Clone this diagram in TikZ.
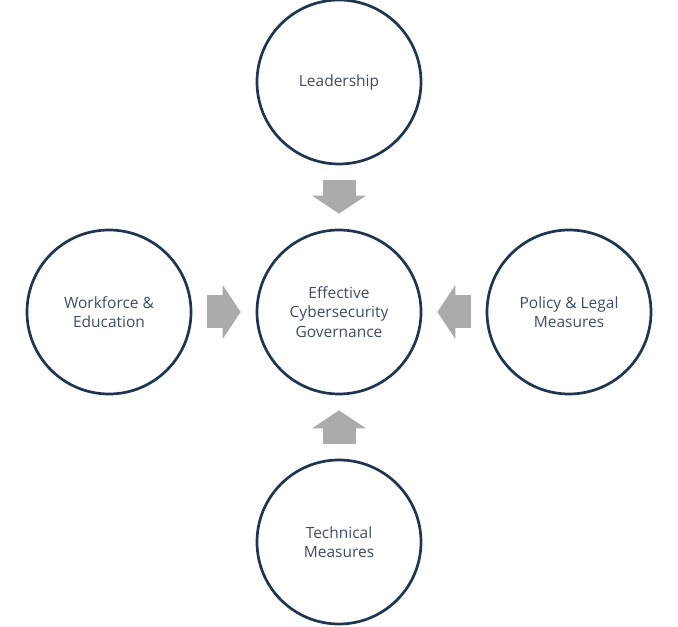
\documentclass[tikz,border=0pt]{standalone}
\usepackage{fontspec}
\setmainfont{Open Sans}
\usetikzlibrary{arrows.meta,positioning}
\definecolor{ringblue}{HTML}{1F3550}
\definecolor{labelgray}{HTML}{3E4C60}
\definecolor{arrowgray}{HTML}{ABABAB}

\begin{document}
\begin{tikzpicture}[x=1pt,y=1pt,node distance=230pt,
	main node/.style={circle,draw=ringblue,line width=2.7pt,minimum size=164pt,inner sep=0pt,
		align=center,text=labelgray,font=\fontsize{15.5}{19.5}\selectfont},
	feed/.style={draw=arrowgray,line width=33pt,shorten <=15pt,shorten >=15pt,
		-{Triangle[width=54pt,length=18pt,line width=0pt,fill=arrowgray]}}]
	\useasboundingbox (0,0) rectangle (678,627);
	
	\node[main node] (gov) at (339,315) {Effective\\Cybersecurity\\Governance};
	\node[main node] (lead) [above of=gov] {Leadership};
	\node[main node] (work) [left of=gov] {Workforce \&\\Education};
	\node[main node] (pol) [right of=gov] {Policy \& Legal\\Measures};
	\node[main node] (tech) [below of=gov] {Technical\\Measures};
	
	\draw[feed] (lead) -- (gov);
	\draw[feed] (work) -- (gov);
	\draw[feed] (pol) -- (gov);
	\draw[feed] (tech) -- (gov);
\end{tikzpicture}
\end{document}
